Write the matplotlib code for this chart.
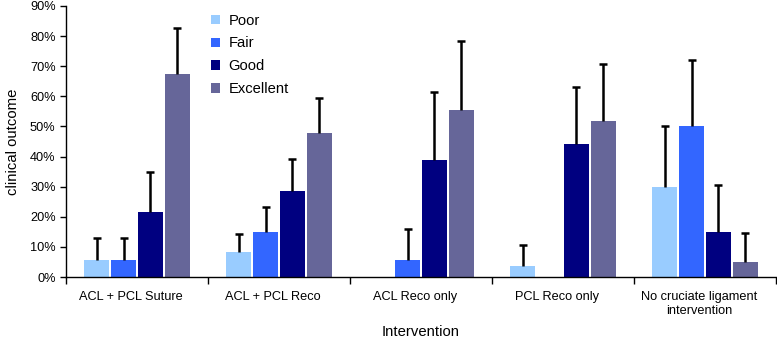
import matplotlib
matplotlib.use("Agg")
import matplotlib.pyplot as plt
import matplotlib.transforms as mtransforms
import numpy as np
from matplotlib.patches import Patch
from matplotlib.ticker import FixedLocator, PercentFormatter

plt.rcParams['font.family'] = ['Liberation Sans', 'DejaVu Sans']

categories = ["ACL + PCL Suture", "ACL + PCL Reco", "ACL Reco only", "PCL Reco only",
              "No cruciate ligament\nintervention"]
series = ["Poor", "Fair", "Good", "Excellent"]
poor = [5.6, 8.2, 0.0, 3.6, 29.9]
fair = [5.6, 15.1, 5.5, 0.0, 50.0]
good = [21.6, 28.7, 38.8, 44.3, 14.9]
excellent = [67.5, 47.8, 55.5, 51.8, 4.9]
poor_top = [12.8, 14.4, None, 10.7, 50.1]
fair_top = [12.8, 23.3, 16.0, None, 72.0]
good_top = [34.9, 39.1, 61.4, 63.1, 30.7]
excellent_top = [82.6, 59.4, 78.5, 70.8, 14.5]
colors = ["#99CCFF", "#3366FF", "#000080", "#666699"]

values = [poor, fair, good, excellent]
tops = [poor_top, fair_top, good_top, excellent_top]

fig = plt.figure(figsize=(7.77, 3.40), dpi=100)
ax = fig.add_axes([66/777, 63/340, 710/777, 271/340])

x = np.arange(len(categories)) + 0.5
step = 0.19
width = 0.17
for i, (vals, tp, c) in enumerate(zip(values, tops, colors)):
    pos = x + (i - 1.5) * step
    ax.bar(pos, vals, width=width, color=c, zorder=2)
    for p, v, t in zip(pos, vals, tp):
        if t is not None:
            ax.vlines(p, v, t, colors='black', linewidth=1.8, zorder=3)
            ax.plot([p], [t], marker='_', markersize=6, markeredgewidth=1.8,
                    color='black', zorder=3)

ax.set_xlim(0, 5)
ax.set_ylim(0, 90)
ax.yaxis.set_major_locator(FixedLocator(np.arange(0, 91, 10)))
ax.yaxis.set_major_formatter(PercentFormatter(decimals=0))
ax.set_xticks(x)
ax.set_xticklabels(categories, fontsize=9.2)
ax.set_xticks(np.arange(0, 6), minor=True)
ax.tick_params(axis='x', which='major', length=0, pad=10)
ax.tick_params(axis='x', which='minor', length=5, width=1)
ax.tick_params(axis='y', labelsize=9.2, length=4, width=1)
shift = mtransforms.ScaledTranslation(-6/100, 0, fig.dpi_scale_trans)
for lab in ax.get_xticklabels():
    lab.set_transform(lab.get_transform() + shift)
for s in ['top', 'right']:
    ax.spines[s].set_visible(False)
ax.spines['left'].set_linewidth(1)
ax.spines['bottom'].set_linewidth(1)

ax.set_ylabel("clinical outcome", fontsize=10.7, labelpad=7)
ax.set_xlabel("Intervention", fontsize=10.7, labelpad=6)

handles = [Patch(facecolor=c, edgecolor='none') for c in colors]
ax.legend(handles, series, loc='upper left', bbox_to_anchor=(0.204, 0.972),
          frameon=False, fontsize=10.6, handlelength=0.6, handleheight=0.6,
          handletextpad=0.6, labelspacing=0.6, borderpad=0, borderaxespad=0)

fig.savefig("out.png", dpi=100)
